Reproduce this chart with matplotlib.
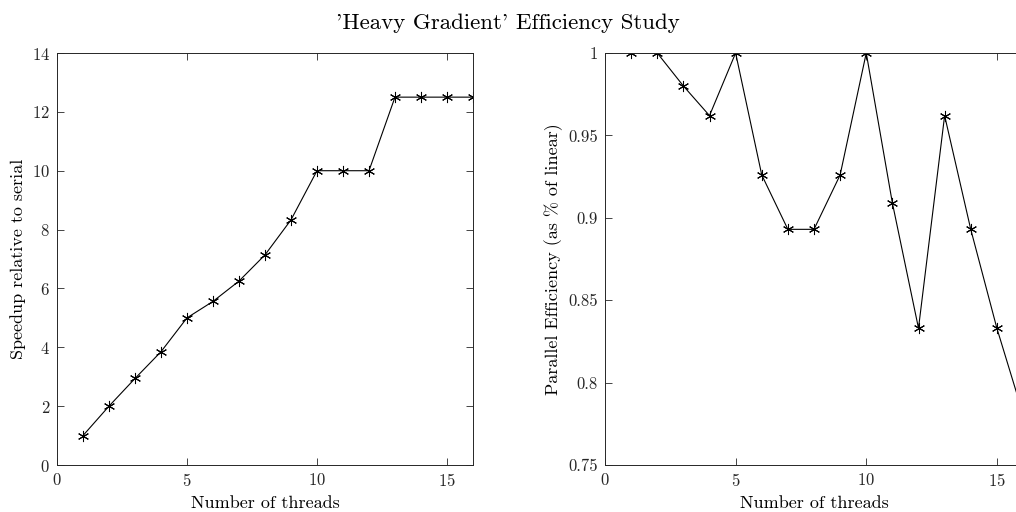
import matplotlib
matplotlib.use('Agg')
import matplotlib.pyplot as plt

plt.rcParams['font.family'] = 'cmr10'
plt.rcParams['axes.formatter.use_mathtext'] = True
plt.rcParams['axes.unicode_minus'] = False

threads = [1, 2, 3, 4, 5, 6, 7, 8, 9, 10, 11, 12, 13, 14, 15, 16]
speedup = [1.0, 2.0, 2.94, 3.85, 5.0, 5.56, 6.25, 7.14, 8.33, 10.0, 10.0, 10.0, 12.5, 12.5, 12.5, 12.5]
efficiency = [1.0, 1.0, 0.98, 0.962, 1.0, 0.926, 0.893, 0.893, 0.926, 1.0, 0.909, 0.833, 0.962, 0.893, 0.833, 0.781]

speed_ticks = [0, 2, 4, 6, 8, 10, 12, 14]
eff_ticks = [0.75, 0.8, 0.85, 0.9, 0.95, 1.0]
eff_labels = ['0.75', '0.8', '0.85', '0.9', '0.95', '1']
x_ticks = [0, 5, 10, 15]

W, H = 1016, 512
fig = plt.figure(figsize=(W / 100, H / 100), dpi=100)

ax1 = fig.add_axes([57 / W, 1 - 465 / H, 416 / W, 412 / H])
ax2 = fig.add_axes([605 / W, 1 - 465 / H, 418 / W, 412 / H])

mk = dict(color='black', lw=0.8, marker=(6, 2, 0), ms=8, mew=0.75)

ax1.plot(threads, speedup, **mk)
ax1.set_xlim(0, 16)
ax1.set_ylim(0, 14)
ax1.set_yticks(speed_ticks)
ax1.set_ylabel('Speedup relative to serial', fontsize=13)

ax2.plot(threads, efficiency, **mk)
ax2.set_xlim(0, 16)
ax2.set_ylim(0.75, 1.0)
ax2.set_yticks(eff_ticks)
ax2.set_yticklabels(eff_labels)
ax2.set_ylabel('Parallel Efficiency (as % of linear)', fontsize=13)

for ax in (ax1, ax2):
    ax.set_xticks(x_ticks)
    ax.set_xlabel('Number of threads', fontsize=13, labelpad=5)
    ax.tick_params(direction='in', top=True, right=True, labelsize=12, pad=5,
                   length=5, width=0.6, colors='#262626', labelcolor='#262626')
    for s in ax.spines.values():
        s.set_linewidth(0.7)
        s.set_color('#262626')

fig.text(0.5, 1 - 23 / H, "'Heavy Gradient' Efficiency Study", ha='center', va='center', fontsize=16.5)

fig.savefig('out.png', dpi=100)
